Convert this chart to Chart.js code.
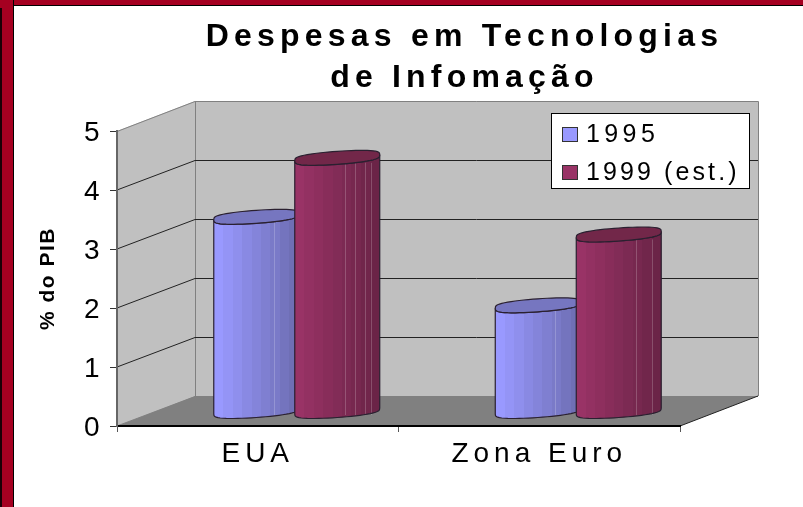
<!DOCTYPE html>
<html><head><meta charset="utf-8">
<script src="https://cdn.jsdelivr.net/npm/chart.js@4"></script>
<style>
html,body{margin:0;padding:0;background:#fff;overflow:hidden}
#frame{position:relative;width:803px;height:507px;background:#fff}
#top{position:absolute;left:0;top:0;width:803px;height:5px;background:#A50021;border-bottom:1px solid #000}
#left{position:absolute;left:0;top:0;width:13px;height:507px;background:#A50021;border-right:1px solid #000}
#edge{position:absolute;left:0;top:8px;width:2px;height:499px;background:#1a0006}
canvas{position:absolute;left:0;top:0}
</style></head>
<body>
<div id="frame"><div id="top"></div><div id="left"></div><div id="edge"></div><canvas id="c" width="803" height="507"></canvas></div>
<script>
const titleLines = ['Despesas em Tecnologias', 'de Infomação'];
const categories = ['EUA', 'Zona Euro'];
const seriesNames = ['1995', '1999 (est.)'];
const values1995 = [3.3, 1.8];
const values1999 = [4.3, 3.0];
const yAxisTitle = '% do PIB';
const fillColors = ['#9999FF', '#993366'];
const shadeColors = ['#6F6FB5', '#6B2447'];
const topColors = ['#7676C0', '#722749'];
const facetLines = [[[0.41], [0.41]], [[0.18, 0.41, 0.65, 0.79], [0.40, 0.79]]];

const FONT = '"Liberation Sans", Arial, sans-serif';
const DEPTH_X = 78, DEPTH_Y = 30;
const mix = (a, b, t) => {
  const p = h => [1, 3, 5].map(i => parseInt(h.substr(i, 2), 16));
  const A = p(a), B = p(b);
  return 'rgb(' + A.map((v, i) => Math.round(v + (B[i] - v) * t)).join(',') + ')';
};

const scene = {
  id: 'scene',
  beforeLayout(chart) {
    if (chart.$wrapped) return;
    chart.$wrapped = true;
    const spaced = (box, gap) => {
      const d = box.draw;
      box.draw = function (a) {
        chart.ctx.letterSpacing = gap;
        d.call(box, a);
        chart.ctx.letterSpacing = '0px';
      };
    };
    spaced(chart.scales.x, '5px');
    spaced(chart.scales.y, '1.5px');
    spaced(chart.titleBlock, '5.2px');
  },
  afterLayout(chart) {
    const t = chart.titleBlock, mid = 464.5;
    t.left = mid - 401; t.right = mid + 401;
  },
  beforeDraw(chart) {
    const { ctx, scales: { x, y } } = chart;
    const l = x.left, r = x.right, b = y.getPixelForValue(0), tp = y.getPixelForValue(5);
    const poly = (pts, fill) => {
      ctx.beginPath();
      pts.forEach((p, i) => i ? ctx.lineTo(p[0], p[1]) : ctx.moveTo(p[0], p[1]));
      ctx.closePath();
      if (fill) { ctx.fillStyle = fill; ctx.fill(); }
    };
    ctx.save();
    poly([[l, tp], [l + DEPTH_X, tp - DEPTH_Y], [r + DEPTH_X, tp - DEPTH_Y], [r + DEPTH_X, b - DEPTH_Y], [l + DEPTH_X, b - DEPTH_Y], [l, b]], '#C0C0C0');
    poly([[l, b], [r, b], [r + DEPTH_X, b - DEPTH_Y], [l + DEPTH_X, b - DEPTH_Y]], '#808080');
    ctx.strokeStyle = '#808080'; ctx.lineWidth = 1;
    ctx.beginPath();
    ctx.moveTo(l, tp + .5); ctx.lineTo(l + DEPTH_X, tp - DEPTH_Y + .5); ctx.lineTo(r + DEPTH_X + .5, tp - DEPTH_Y + .5); ctx.lineTo(r + DEPTH_X + .5, b - DEPTH_Y);
    ctx.moveTo(l + DEPTH_X + .5, tp - DEPTH_Y); ctx.lineTo(l + DEPTH_X + .5, b - DEPTH_Y);
    ctx.moveTo(l, b); ctx.lineTo(l + DEPTH_X, b - DEPTH_Y + .5); ctx.lineTo(r + DEPTH_X, b - DEPTH_Y + .5);
    ctx.stroke();
    ctx.strokeStyle = '#222';
    ctx.beginPath();
    ctx.moveTo(r, b); ctx.lineTo(r + DEPTH_X, b - DEPTH_Y);
    y.ticks.forEach(t => {
      if (t.value === 0 || t.value === 5) return;
      const py = y.getPixelForValue(t.value);
      ctx.moveTo(l, py); ctx.lineTo(l + DEPTH_X, py - DEPTH_Y + .5); ctx.lineTo(r + DEPTH_X, py - DEPTH_Y + .5);
    });
    ctx.stroke();
    ctx.restore();
  },
  beforeDatasetDraw() { return false; },
  afterDatasetsDraw(chart) {
    const ctx = chart.ctx;
    const shiftX = DEPTH_X / 2, baseLift = 14.5, topLift = 14.5;
    ctx.save();
    chart.data.datasets.forEach((ds, di) => {
      chart.getDatasetMeta(di).data.forEach((bar, bi) => {
        const cx = bar.x + shiftX, a = bar.width / 2, by = bar.base - baseLift, ty = bar.y - topLift;
        const rim = (cy, t) => {
          const s = Math.sin(t);
          return [cx + a * Math.cos(t), cy + 6.5 * Math.sign(s) * Math.pow(Math.abs(s), 0.6) - 3 * Math.cos(t)];
        };
        const g = ctx.createLinearGradient(cx - a, 0, cx + a, 0);
        const bands = 9;
        for (let i = 0; i < bands; i++) {
          const col = mix(fillColors[di], shadeColors[di], i / (bands - 1));
          g.addColorStop(i / bands, col); g.addColorStop((i + 1) / bands, col);
        }
        const n = 28;
        const outline = () => {
          ctx.beginPath();
          let p = rim(ty, Math.PI); ctx.moveTo(p[0], p[1]);
          p = rim(by, Math.PI); ctx.lineTo(p[0], p[1]);
          for (let i = n - 1; i >= 0; i--) { p = rim(by, Math.PI * i / n); ctx.lineTo(p[0], p[1]); }
          for (let i = 0; i <= n; i++) { p = rim(ty, Math.PI * i / n); ctx.lineTo(p[0], p[1]); }
        };
        outline();
        ctx.closePath();
        ctx.fillStyle = g; ctx.fill();
        ctx.strokeStyle = 'rgba(255,255,255,.2)'; ctx.lineWidth = 1;
        ctx.beginPath();
        facetLines[di][bi].forEach(f => {
          const fx = Math.round(cx + a * f) + .5;
          ctx.moveTo(fx, ty + 5); ctx.lineTo(fx, by + 4);
        });
        ctx.stroke();
        ctx.strokeStyle = '#2a2030'; ctx.lineWidth = 1.2;
        outline();
        ctx.stroke();
        ctx.beginPath();
        for (let i = 0; i <= 2 * n; i++) { const p = rim(ty, Math.PI * i / n); i ? ctx.lineTo(p[0], p[1]) : ctx.moveTo(p[0], p[1]); }
        ctx.closePath();
        ctx.fillStyle = topColors[di]; ctx.fill(); ctx.stroke();
      });
    });
    const lx = 551.5, ly = 113.5, lw = 198, lh = 75;
    ctx.fillStyle = '#fff'; ctx.fillRect(lx, ly, lw, lh);
    ctx.strokeStyle = '#000'; ctx.lineWidth = 1; ctx.strokeRect(lx, ly, lw, lh);
    ctx.font = '25px ' + FONT; ctx.textBaseline = 'middle'; ctx.textAlign = 'left';
    chart.data.datasets.forEach((ds, i) => {
      const cy = 135 + i * 38;
      ctx.fillStyle = fillColors[i];
      ctx.fillRect(562.5, cy - 7.5, 15, 14);
      ctx.strokeStyle = '#333'; ctx.strokeRect(562.5, cy - 7.5, 15, 14);
      ctx.fillStyle = '#000';
      ctx.letterSpacing = i ? '3.1px' : '4.4px';
      ctx.fillText(ds.label, 586, cy);
      ctx.letterSpacing = '0px';
    });
    ctx.restore();
  }
};

new Chart(document.getElementById('c'), {
  type: 'bar',
  data: {
    labels: categories,
    datasets: [
      { label: seriesNames[0], data: values1995, backgroundColor: fillColors[0], categoryPercentage: 0.5755, barPercentage: 1.049 },
      { label: seriesNames[1], data: values1999, backgroundColor: fillColors[1], categoryPercentage: 0.5755, barPercentage: 1.049 }
    ]
  },
  options: {
    responsive: false, animation: false, devicePixelRatio: 1,
    layout: { padding: { left: 0, right: 123, top: 0, bottom: 0 } },
    plugins: {
      legend: { display: false },
      tooltip: { enabled: false },
      title: {
        display: true, text: titleLines, color: '#000',
        font: { family: FONT, size: 32, weight: 'bold', lineHeight: 41 / 32 },
        padding: { top: 17, bottom: 32 }
      }
    },
    scales: {
      x: {
        afterFit: s => { s.height = 81; },
        grid: { drawOnChartArea: false, tickLength: 6, tickColor: '#555', color: '#555' },
        border: { color: '#000', width: 2 },
        ticks: { color: '#000', font: { family: FONT, size: 28 }, padding: 5, maxRotation: 0, autoSkip: false }
      },
      y: {
        min: 0, max: 5,
        afterFit: s => { s.width = 117; },
        title: { display: true, text: yAxisTitle, color: '#000', font: { family: FONT, size: 21, weight: 'bold' }, padding: { top: 36, bottom: 0 } },
        grid: { drawOnChartArea: false, tickLength: 7, tickColor: '#333' },
        border: { color: '#666', width: 2 },
        ticks: { color: '#000', stepSize: 1, font: { family: FONT, size: 28 }, padding: 9, labelOffset: 2 }
      }
    }
  },
  plugins: [scene]
});
</script>
</body></html>
